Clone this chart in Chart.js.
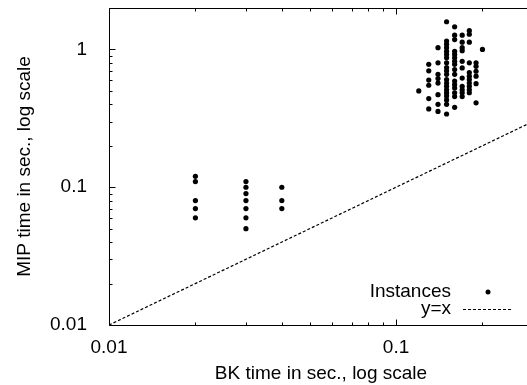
<!DOCTYPE html>
<html>
<head>
<meta charset="utf-8">
<script src="https://cdn.jsdelivr.net/npm/chart.js@4"></script>
<style>
html,body{margin:0;padding:0;background:#fff;overflow:hidden;}
#wrap{width:527px;height:385px;overflow:hidden;position:relative;}
canvas{display:block;}
</style>
</head>
<body>
<div id="wrap"><canvas id="c" width="537" height="385"></canvas></div>
<script>
// ---- data ----
const bkColumns = [0.02, 0.03, 0.04, 0.12, 0.13, 0.14, 0.15, 0.16, 0.17, 0.18, 0.19, 0.20];
const mipByColumn = [
  [0.12, 0.11, 0.08, 0.07, 0.06],
  [0.11, 0.10, 0.09, 0.08, 0.07, 0.06, 0.05],
  [0.10, 0.08, 0.07],
  [0.50],
  [0.78, 0.70, 0.60, 0.55, 0.44, 0.37],
  [1.03, 0.80, 0.66, 0.615, 0.57, 0.47, 0.40, 0.355],
  [1.59, 1.15, 1.09, 1.03, 0.97, 0.92, 0.87, 0.80, 0.74, 0.70, 0.66, 0.605, 0.57, 0.54, 0.51, 0.485, 0.46, 0.43, 0.40, 0.34],
  [1.46, 1.27, 1.18, 0.97, 0.92, 0.87, 0.82, 0.78, 0.715, 0.66, 0.59, 0.555, 0.525, 0.485, 0.455, 0.38],
  [1.27, 1.13, 1.03, 0.98, 0.82, 0.735, 0.62, 0.54, 0.51, 0.485, 0.455],
  [1.37, 1.29, 1.13, 0.80, 0.68, 0.64, 0.605, 0.57, 0.54, 0.51, 0.485],
  [0.80, 0.755, 0.695, 0.64, 0.565, 0.41],
  [1.00]
];
const xRange = [0.01, 0.3];
const yRange = [0.01, 2];
const diagonalX = [0.01, 0.3];
const xTickLabels = [0.01, 0.1];
const yTickLabels = [0.01, 0.1, 1];
const xMinorTicks = [0.02, 0.03, 0.04, 0.05, 0.06, 0.07, 0.08, 0.09, 0.2, 0.3];
const yMinorTicks = [0.02, 0.03, 0.04, 0.05, 0.06, 0.07, 0.08, 0.09, 0.2, 0.3, 0.4, 0.5, 0.6, 0.7, 0.8, 0.9, 2];
const seriesLabels = ['Instances', 'y=x'];
const xTitle = 'BK time in sec., log scale';
const yTitle = 'MIP time in sec., log scale';

// ---- build ----
const FONT = '"Liberation Sans", Arial, Helvetica, sans-serif';
const FS = 19;
const instancePoints = [];
bkColumns.forEach((bk, i) => mipByColumn[i].forEach(m => instancePoints.push({x: bk, y: m})));
const diagonalPoints = diagonalX.map(v => ({x: v, y: v}));

const framePlugin = {
  id: 'frameTicksKey',
  afterDraw(chart) {
    const {ctx, chartArea: a, scales: {x, y}} = chart;
    ctx.save();
    ctx.strokeStyle = '#000';
    ctx.lineWidth = 1;
    const L = Math.round(a.left) + 0.5, T = Math.round(a.top) + 0.5, B = Math.round(a.bottom) + 0.5, R = Math.round(a.right) + 0.5;
    ctx.beginPath();
    ctx.rect(L, T, R - L, B - T);
    ctx.stroke();
    const xTick = (v, len) => {
      const px = Math.round(x.getPixelForValue(v)) + 0.5;
      ctx.beginPath();
      ctx.moveTo(px, B); ctx.lineTo(px, B - len);
      ctx.moveTo(px, T); ctx.lineTo(px, T + len);
      ctx.stroke();
    };
    const yTick = (v, len) => {
      const py = Math.round(y.getPixelForValue(v)) + 0.5;
      ctx.beginPath();
      ctx.moveTo(L, py); ctx.lineTo(L + len, py);
      ctx.moveTo(R, py); ctx.lineTo(R - len, py);
      ctx.stroke();
    };
    xTickLabels.forEach(v => xTick(v, 6));
    xMinorTicks.forEach(v => xTick(v, 3));
    yTickLabels.forEach(v => yTick(v, 6));
    yMinorTicks.forEach(v => yTick(v, 3));

    // key
    ctx.font = FS + 'px ' + FONT;
    ctx.fillStyle = '#000';
    ctx.textAlign = 'right';
    ctx.textBaseline = 'middle';
    const ds = chart.data.datasets;
    ctx.fillText(ds[0].label, 451, 292);
    ctx.beginPath();
    ctx.arc(488, 292, 2.5, 0, Math.PI * 2);
    ctx.fill();
    ctx.fillText(ds[1].label, 451, 309);
    ctx.setLineDash([3, 2]);
    ctx.lineWidth = 1.2;
    ctx.beginPath();
    ctx.moveTo(463, 309.5); ctx.lineTo(512, 309.5);
    ctx.stroke();
    ctx.restore();
  }
};

new Chart(document.getElementById('c'), {
  type: 'scatter',
  data: {
    datasets: [
      {
        label: seriesLabels[0],
        data: instancePoints,
        pointRadius: 2.6,
        pointBackgroundColor: '#000',
        pointBorderWidth: 0,
        showLine: false
      },
      {
        label: seriesLabels[1],
        data: diagonalPoints,
        showLine: true,
        borderColor: '#000',
        borderWidth: 1.2,
        borderDash: [3, 2],
        pointRadius: 0
      }
    ]
  },
  options: {
    responsive: false,
    devicePixelRatio: 1,
    animation: false,
    events: [],
    layout: {padding: {top: 8, right: 0, bottom: 0, left: 0}},
    plugins: {legend: {display: false}, tooltip: {enabled: false}},
    scales: {
      x: {
        type: 'logarithmic',
        position: 'bottom',
        min: xRange[0],
        max: xRange[1],
        afterBuildTicks: s => { s.ticks = xTickLabels.map(v => ({value: v})); },
        afterFit: s => { s.height = 60; s.paddingLeft = 0; s.paddingRight = 0; },
        grid: {display: false},
        border: {display: false},
        ticks: {
          autoSkip: false, maxRotation: 0, padding: 3, color: '#000',
          font: {family: FONT, size: FS},
          callback: v => String(v)
        },
        title: {display: true, text: xTitle, color: '#000', font: {family: FONT, size: FS}, padding: {top: 0, bottom: 0}}
      },
      y: {
        type: 'logarithmic',
        position: 'left',
        min: yRange[0],
        max: yRange[1],
        afterBuildTicks: s => { s.ticks = yTickLabels.map(v => ({value: v})); },
        afterFit: s => { s.width = 109; s.paddingTop = 0; s.paddingBottom = 0; },
        grid: {display: false},
        border: {display: false},
        ticks: {
          autoSkip: false, padding: 14, color: '#000',
          font: {family: FONT, size: FS},
          callback: v => String(v)
        },
        title: {display: true, text: yTitle, color: '#000', font: {family: FONT, size: FS}, padding: {top: 13, bottom: 0}}
      }
    }
  },
  plugins: [framePlugin]
});
</script>
</body>
</html>
